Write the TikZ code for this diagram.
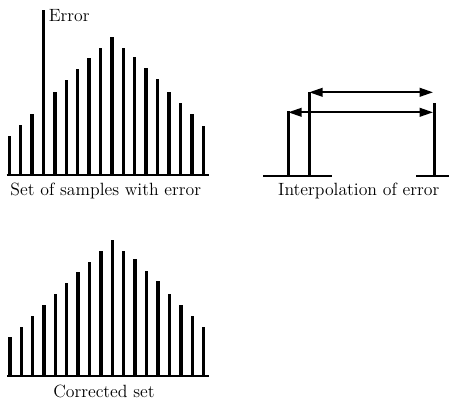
\documentclass[tikz,border=0pt]{standalone}
\usetikzlibrary{arrows.meta}
\begin{document}
\begin{tikzpicture}[x=0.75pt,y=-0.75pt,
  bar/.style={line width=2.5pt},
  base/.style={line width=1.6pt},
  lab/.style={font=\fontsize{13.3}{15}\selectfont, inner sep=0pt},
  dbl/.style={line width=1.4pt, {Triangle[length=10pt,width=6.5pt]}-{Triangle[length=10pt,width=6.5pt]}}]
\useasboundingbox (0,0) rectangle (449,399);
% top panel
\draw[base] (6.5,175) -- (208.5,175);
\foreach \x/\t in {9.3/136,20.7/125,32/114,43.3/10,55/91.7,66.3/80,77.7/69.3,89/58.3,100.7/47.7,112/36.7,123.3/47.7,134.7/56.7,146/67.7,157.7/79,169/91.7,180.3/103.3,192/114,203.3/125.7}
  \draw[bar] (\x,175) -- (\x,\t);
\node[lab, anchor=west] (err) at (48.5,15.5) {Error};
\node[lab] (l1) at (105.8,191) {Set of samples with error};
% interpolation panel
\draw[base] (263,176) -- (332,176);
\draw[base] (416,176) -- (449,176);
\draw[bar] (288.3,176) -- (288.3,111.5);
\draw[bar] (309.3,176) -- (309.3,92.3);
\draw[bar] (434.5,176) -- (434.5,102.7);
\coordinate (a1) at (288.3,112.3);
\coordinate (b1) at (433,112.3);
\coordinate (a2) at (309.3,92.3);
\coordinate (b2) at (433,92.3);
\draw[dbl] (a1) -- (b1);
\draw[dbl] (a2) -- (b2);
\node[lab] (l2) at (358.8,191) {Interpolation of error};
% corrected panel
\draw[base] (7,376) -- (209,376);
\foreach \x/\t in {10/337.3,21.3/326.7,32.7/316,44/305,55.3/294,66.7/283.3,78/272.3,89.3/261.7,101/250.7,112.3/240,123.7/250.7,135/259.3,146.7/270.7,158/281,169.3/294,181/305,192.3/316,203.7/326.7}
  \draw[bar] (\x,376) -- (\x,\t);
\node[lab] (l3) at (104,391.5) {Corrected set};
\end{tikzpicture}
\end{document}
